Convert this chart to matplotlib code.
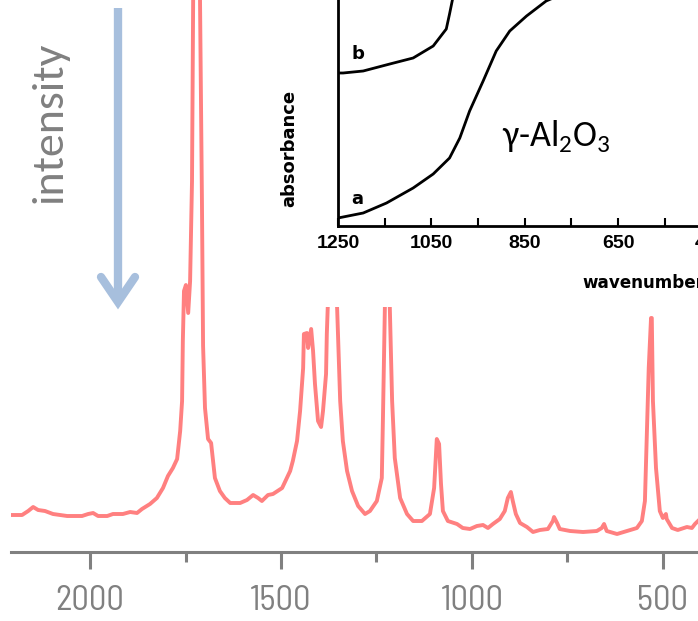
import matplotlib
matplotlib.use('Agg')
import matplotlib.pyplot as plt
from matplotlib.lines import Line2D
from matplotlib.patches import Rectangle
from matplotlib.ticker import FixedLocator

# Raman-style spectrum (wavenumber in cm-1, intensity in arbitrary units)
spec_wn = [2207, 2178, 2162, 2149, 2136, 2118, 2097, 2060, 2021, 2005,
           1992, 1979, 1955, 1940, 1914, 1895, 1877, 1864, 1843, 1825,
           1809, 1796, 1783, 1772, 1764, 1759, 1757, 1754, 1749, 1743,
           1738, 1733, 1730, 1721, 1712, 1707, 1704, 1699, 1691,
           1683, 1678, 1673, 1660, 1647, 1633, 1607, 1589, 1573, 1560,
           1550, 1534, 1521, 1497, 1476, 1469, 1458, 1450, 1442, 1440,
           1432, 1429, 1421, 1416, 1411, 1403, 1395, 1390, 1382, 1380,
           1377, 1366, 1353, 1345, 1338, 1327, 1314, 1298, 1280, 1267,
           1249, 1236, 1233, 1230, 1228, 1222, 1215, 1209, 1202, 1188,
           1170, 1154, 1131, 1110, 1099, 1092, 1086, 1081, 1076, 1063,
           1039, 1024, 1005, 987, 971, 958, 945, 927, 914, 906,
           898, 893, 885, 874, 856, 840, 822, 801, 788, 785,
           777, 770, 743, 709, 673, 660, 654, 647, 620, 594,
           568, 555, 547, 542, 537, 531, 529, 526, 518, 508,
           500, 492, 490, 476, 461, 437, 424, 416, 408]
spec_int = [0.37, 0.37, 0.41, 0.45, 0.42, 0.41, 0.38, 0.36, 0.36, 0.38,
            0.39, 0.36, 0.36, 0.38, 0.38, 0.40, 0.39, 0.43, 0.48, 0.54,
            0.64, 0.76, 0.84, 0.93, 1.21, 1.51, 2.11, 2.61, 2.67, 2.39,
            2.71, 3.71, 5.51, 30.0, 5.51, 3.51, 2.06, 1.44, 1.13,
            1.09, 0.91, 0.74, 0.61, 0.54, 0.49, 0.49, 0.52, 0.57, 0.54,
            0.51, 0.57, 0.58, 0.64, 0.81, 0.91, 1.11, 1.41, 1.84, 2.18,
            2.19, 2.04, 2.23, 2.01, 1.68, 1.31, 1.25, 1.41, 1.78, 2.18,
            2.51, 3.2, 2.44, 1.51, 1.11, 0.81, 0.61, 0.46, 0.38, 0.41,
            0.51, 0.74, 1.34, 2.01, 2.44, 3.6, 2.44, 1.51, 0.94, 0.54,
            0.38, 0.31, 0.31, 0.38, 0.64, 1.13, 1.08, 0.68, 0.41, 0.31,
            0.28, 0.24, 0.23, 0.26, 0.27, 0.24, 0.28, 0.33, 0.41, 0.54,
            0.60, 0.51, 0.38, 0.29, 0.25, 0.20, 0.22, 0.23, 0.31, 0.35,
            0.29, 0.23, 0.21, 0.20, 0.21, 0.24, 0.28, 0.21, 0.18, 0.21,
            0.24, 0.31, 0.51, 1.18, 1.84, 2.34, 2.34, 1.51, 0.84, 0.41,
            0.34, 0.38, 0.33, 0.24, 0.22, 0.25, 0.24, 0.28, 0.31]
main_ticks = [2000, 1500, 1000, 500]
main_minor = [1750, 1250, 750]

# inset: IR absorbance of gamma-Al2O3, curves a and b
a_wn = [1250, 1196, 1146, 1089, 1046, 1011, 989, 968, 939, 911, 882, 846, 804, 789, 760]
a_abs = [0.08, 0.13, 0.23, 0.38, 0.52, 0.68, 0.88, 1.15, 1.45, 1.75, 1.95, 2.10, 2.25, 2.28, 2.45]
b_wn = [1250, 1239, 1196, 1139, 1089, 1046, 1018, 1011, 1004, 1000]
b_abs = [1.53, 1.53, 1.55, 1.62, 1.68, 1.80, 1.97, 2.12, 2.28, 2.45]
inset_ticks = [1250, 1050, 850, 650, 450]
inset_minor = [1150, 950, 750, 550]

gray = '#808080'
red = '#ff8080'
blue = '#a7bfdd'
calibri = ['Carlito', 'DejaVu Sans']

plt.rcParams['mathtext.fontset'] = 'custom'
plt.rcParams['mathtext.rm'] = 'Carlito'

fig = plt.figure(figsize=(6.98, 6.21), dpi=100)
W, H = 698, 621

def fx(px):
    return px / W

def fy(py):
    return 1 - py / H

# main spectrum
ax = fig.add_axes([fx(11), fy(552), fx(698) - fx(11), fy(0) - fy(552)])
ax.plot(spec_wn, spec_int, color=red, lw=2.8, solid_joinstyle='round')
ax.set_xlim(2207, 408)
ax.set_ylim(0, 5.52)
for s in ['left', 'top', 'right']:
    ax.spines[s].set_visible(False)
ax.spines['bottom'].set_color(gray)
ax.spines['bottom'].set_linewidth(2.2)
ax.set_yticks([])
ax.set_xticks(main_ticks)
ax.xaxis.set_minor_locator(FixedLocator(main_minor))
ax.tick_params(axis='x', which='major', length=12, width=2.2, color=gray,
               labelcolor=gray, labelsize=25, pad=12)
ax.tick_params(axis='x', which='minor', length=7, width=2.2, color=gray)
for lab in ax.get_xticklabels():
    lab.set_family(['Barlow Semi Condensed', 'Carlito', 'DejaVu Sans'])
    lab.set_fontweight(400)
ax.patch.set_visible(False)

# white box behind the inset
ax.add_patch(Rectangle((fx(276), fy(307)), 1 - fx(276), 1 - fy(307),
                       transform=fig.transFigure, facecolor='white',
                       edgecolor='none', zorder=5, clip_on=False))

# intensity arrow
ax_x = fx(118)
fig.add_artist(Line2D([ax_x, ax_x], [fy(8), fy(302)], color=blue, lw=6,
                      solid_capstyle='butt'))
fig.add_artist(Line2D([fx(101), fx(118), fx(135)], [fy(277), fy(302), fy(277)],
                      color=blue, lw=6, solid_capstyle='round',
                      solid_joinstyle='miter'))
fig.text(fx(50), fy(122), 'intensity', rotation=90, ha='center', va='center',
         color=gray, fontsize=33, family=calibri)

# inset
ins = fig.add_axes([fx(338), fy(226), (850 * 0.4667) / W, 240 / H])
ins.patch.set_visible(False)
ins.plot(a_wn, a_abs, color='black', lw=2)
ins.plot(b_wn, b_abs, color='black', lw=2)
ins.set_xlim(1250, 400)
ins.set_ylim(0, 2.4)
ins.spines['top'].set_visible(False)
ins.spines['right'].set_visible(False)
ins.spines['left'].set_linewidth(2)
ins.spines['bottom'].set_linewidth(2)
ins.set_yticks([])
ins.set_xticks(inset_ticks)
ins.xaxis.set_minor_locator(FixedLocator(inset_minor))
ins.tick_params(axis='x', which='both', direction='in', length=6, width=1.5,
                pad=6.5, labelsize=14)
for lab in ins.get_xticklabels():
    lab.set_family(['Liberation Sans', 'DejaVu Sans'])
    lab.set_fontweight('bold')
ins.text(1207, 1.72, 'b', ha='center', va='center', fontsize=13, fontweight='bold')
ins.text(1209, 0.27, 'a', ha='center', va='center', fontsize=13, fontweight='bold')
ins.text(781, 0.90, 'γ-Al$_2$O$_3$', ha='center', va='center', fontsize=26,
         family=calibri)
fig.text(fx(289), fy(148), 'absorbance', rotation=90, ha='center', va='center',
         fontsize=13, fontweight='bold')
fig.text(fx(582), fy(283), 'wavenumber', ha='left', va='center',
         fontsize=12.1, fontweight='bold')

fig.savefig('out.png', dpi=100)
